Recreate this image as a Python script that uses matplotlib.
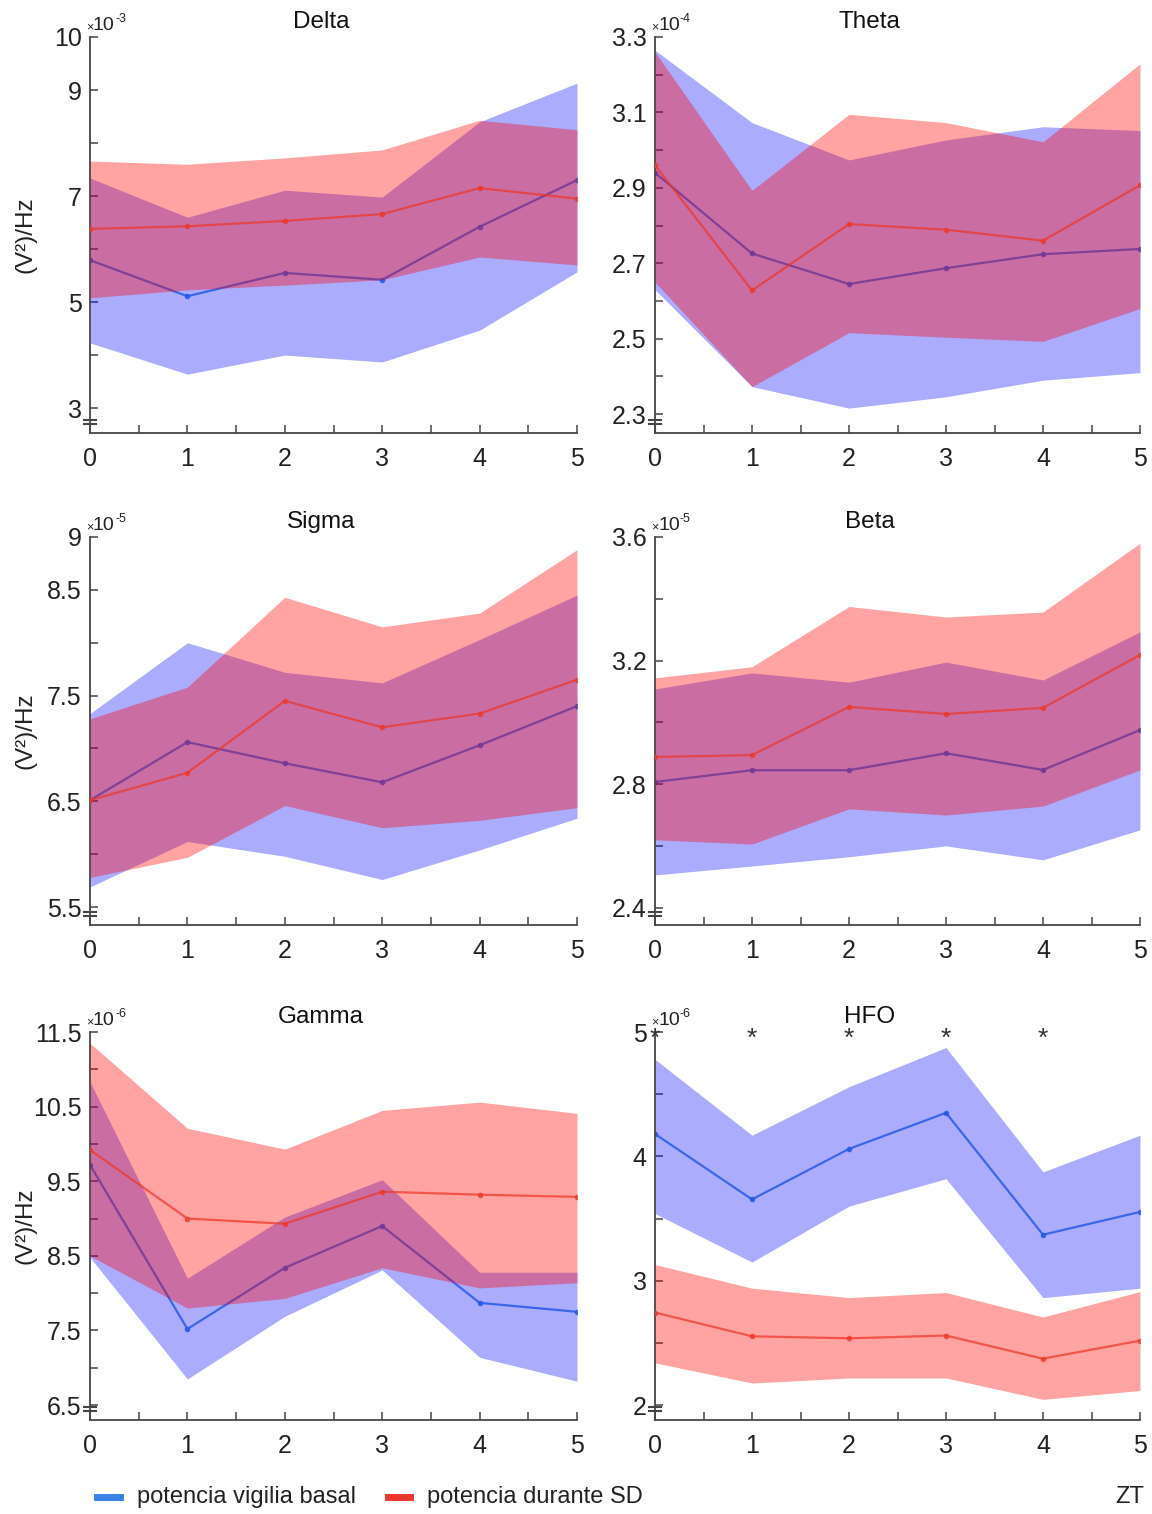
import numpy as np
import matplotlib as mpl
mpl.use('Agg')
import matplotlib.pyplot as plt
from matplotlib.lines import Line2D
from matplotlib.transforms import ScaledTranslation

plt.rcParams['font.family'] = ['Liberation Sans', 'DejaVu Sans']

zt = [0, 1, 2, 3, 4, 5]

# mean +/- band for baseline wake (blue) and during SD (red), in units of the panel exponent
delta_blue = [5.79, 5.11, 5.55, 5.42, 6.42, 7.30]
delta_blue_hi = [7.34, 6.60, 7.11, 6.98, 8.40, 9.13]
delta_blue_lo = [4.23, 3.64, 4.00, 3.87, 4.47, 5.57]
delta_red = [6.38, 6.43, 6.53, 6.66, 7.15, 6.95]
delta_red_hi = [7.66, 7.60, 7.72, 7.87, 8.43, 8.25]
delta_red_lo = [5.08, 5.23, 5.32, 5.42, 5.85, 5.70]

theta_blue = [2.94, 2.726, 2.645, 2.687, 2.724, 2.738]
theta_blue_hi = [3.265, 3.073, 2.974, 3.027, 3.062, 3.052]
theta_blue_lo = [2.63, 2.373, 2.316, 2.346, 2.39, 2.41]
theta_red = [2.96, 2.628, 2.804, 2.789, 2.76, 2.907]
theta_red_hi = [3.26, 2.893, 3.095, 3.073, 3.022, 3.229]
theta_red_lo = [2.65, 2.373, 2.516, 2.504, 2.493, 2.58]

sigma_blue = [6.51, 7.06, 6.86, 6.68, 7.03, 7.40]
sigma_blue_hi = [7.33, 8.00, 7.72, 7.62, 8.03, 8.45]
sigma_blue_lo = [5.69, 6.12, 5.98, 5.76, 6.04, 6.34]
sigma_red = [6.51, 6.77, 7.45, 7.20, 7.33, 7.65]
sigma_red_hi = [7.28, 7.58, 8.43, 8.15, 8.28, 8.88]
sigma_red_lo = [5.78, 5.97, 6.46, 6.25, 6.32, 6.44]

beta_blue = [2.807, 2.845, 2.845, 2.90, 2.846, 2.975]
beta_blue_hi = [3.108, 3.16, 3.13, 3.195, 3.137, 3.293]
beta_blue_lo = [2.506, 2.535, 2.565, 2.60, 2.555, 2.652]
beta_red = [2.888, 2.894, 3.05, 3.027, 3.047, 3.218]
beta_red_hi = [3.144, 3.18, 3.375, 3.341, 3.357, 3.58]
beta_red_lo = [2.62, 2.606, 2.72, 2.70, 2.729, 2.846]

gamma_blue = [9.72, 7.52, 8.34, 8.90, 7.87, 7.75]
gamma_blue_hi = [10.83, 8.20, 9.02, 9.52, 8.28, 8.28]
gamma_blue_lo = [8.48, 6.85, 7.69, 8.31, 7.14, 6.82]
gamma_red = [9.92, 9.00, 8.93, 9.36, 9.32, 9.29]
gamma_red_hi = [11.35, 10.21, 9.93, 10.45, 10.56, 10.41]
gamma_red_lo = [8.50, 7.80, 7.93, 8.34, 8.07, 8.14]

hfo_blue = [4.18, 3.654, 4.06, 4.35, 3.37, 3.553]
hfo_blue_hi = [4.78, 4.17, 4.56, 4.875, 3.875, 4.17]
hfo_blue_lo = [3.54, 3.15, 3.60, 3.82, 2.864, 2.94]
hfo_red = [2.744, 2.553, 2.537, 2.559, 2.373, 2.518]
hfo_red_hi = [3.13, 2.94, 2.864, 2.905, 2.708, 2.913]
hfo_red_lo = [2.34, 2.177, 2.218, 2.218, 2.046, 2.117]

hfo_signif = [0, 1, 2, 3, 4]

# name, exponent, y-range, tick step, data
panels = [
    ('Delta', -3, (2.53, 10.0), 1.0,
     (delta_blue, delta_blue_lo, delta_blue_hi, delta_red, delta_red_lo, delta_red_hi)),
    ('Theta', -4, (2.25, 3.3), 0.1,
     (theta_blue, theta_blue_lo, theta_blue_hi, theta_red, theta_red_lo, theta_red_hi)),
    ('Sigma', -5, (5.33, 9.0), 0.5,
     (sigma_blue, sigma_blue_lo, sigma_blue_hi, sigma_red, sigma_red_lo, sigma_red_hi)),
    ('Beta', -5, (2.344, 3.6), 0.2,
     (beta_blue, beta_blue_lo, beta_blue_hi, beta_red, beta_red_lo, beta_red_hi)),
    ('Gamma', -6, (6.30, 11.5), 0.5,
     (gamma_blue, gamma_blue_lo, gamma_blue_hi, gamma_red, gamma_red_lo, gamma_red_hi)),
    ('HFO', -6, (1.88, 5.0), 0.5,
     (hfo_blue, hfo_blue_lo, hfo_blue_hi, hfo_red, hfo_red_lo, hfo_red_hi)),
]

BLUE_LINE = '#3a86e0'
RED_LINE = '#e5553a'
AXCOL = '#454545'
TXT = '#222222'

W, H = 1152, 1514
fig = plt.figure(figsize=(W / 100, H / 100), dpi=100)

col_x = [(90, 577), (655, 1140)]
row_y = [(37, 433), (537, 925), (1032, 1420)]


def first_tick(lo, step):
    return np.ceil(lo / step - 1e-6) * step


def px(ax, dx, dy):
    # axes coords shifted by a few pixels
    return ax.transAxes + ScaledTranslation(dx / 100, dy / 100, fig.dpi_scale_trans)


for i, (name, expo, (ylo, yhi), step, d) in enumerate(panels):
    r, c = divmod(i, 2)
    x0, x1 = col_x[c]
    yt, yb = row_y[r]
    ax = fig.add_axes([x0 / W, 1 - yb / H, (x1 - x0) / W, (yb - yt) / H])
    bm, bl, bh, rm, rl, rh = d

    ax.plot(zt, bm, color=BLUE_LINE, lw=1.6, marker='o', ms=3, alpha=0.85, zorder=1)
    ax.fill_between(zt, bl, bh, color='blue', alpha=0.33, lw=0, zorder=2)
    ax.plot(zt, rm, color=RED_LINE, lw=1.6, marker='o', ms=3, alpha=0.7, zorder=3)
    ax.fill_between(zt, rl, rh, color='red', alpha=0.36, lw=0, zorder=4)

    ax.set_xlim(0, 5)
    ax.set_ylim(ylo, yhi)
    for s in ['top', 'right']:
        ax.spines[s].set_visible(False)
    for s in ['left', 'bottom']:
        ax.spines[s].set_color(AXCOL)
        ax.spines[s].set_linewidth(1.3)

    ax.set_xticks(zt)
    ax.set_xticks(np.arange(0.5, 5, 1.0), minor=True)
    ax.tick_params(axis='x', which='both', direction='in', length=6, width=1.1,
                   color=AXCOL, labelsize=18, pad=10, labelcolor=TXT)

    start = first_tick(ylo, step)
    yt_vals = np.arange(start, yhi + step / 2, step)
    labels = []
    for k, v in enumerate(yt_vals):
        if k % 2 == 0 or k == len(yt_vals) - 1:
            labels.append('%g' % round(v, 3))
        else:
            labels.append('')
    ax.set_yticks(yt_vals)
    ax.set_yticklabels(labels)
    ax.tick_params(axis='y', direction='in', length=6, width=1.1, color=AXCOL,
                   labelsize=18, pad=6, labelcolor=TXT)

    # exponent above the y axis: small x, "10", raised power
    ax.text(0.0, 1.0, '×', transform=px(ax, -4, 7), fontsize=9,
            color=TXT, ha='left', va='baseline')
    ax.text(0.0, 1.0, '10', transform=px(ax, 3, 7), fontsize=14,
            color=TXT, ha='left', va='baseline')
    ax.text(0.0, 1.0, '%d' % expo, transform=px(ax, 25, 15), fontsize=9,
            color=TXT, ha='left', va='baseline')

    tx = 0.474 if c == 0 else 0.443
    ax.text(tx, 1.0, name, transform=px(ax, 0, 15),
            fontsize=17.5, ha='center', va='center', color='#111111')

    # axis break marks near the bottom of the y axis
    for dy in (9, 13):
        ax.add_line(Line2D([-0.012, 0.012], [0, 0], transform=px(ax, 0, dy),
                           color=AXCOL, lw=1.5, clip_on=False))

    if c == 0:
        ax.set_ylabel('(V²)/Hz', fontsize=17.5, color=TXT)
        ax.yaxis.set_label_coords(-0.11, 0.5)

    if name == 'HFO':
        for xs in hfo_signif:
            ax.text(xs, yhi, '*', fontsize=19, ha='center', va='center',
                    color='#333333', clip_on=False,
                    transform=ax.transData + ScaledTranslation(0, -7 / 100, fig.dpi_scale_trans))

# legend along the bottom
ly = 1 - 1497 / H
fig.add_artist(Line2D([97 / W, 120 / W], [ly, ly], color='#3b82e6', lw=5))
fig.text(137 / W, ly, 'potencia vigilia basal', fontsize=17, va='center', color=TXT)
fig.add_artist(Line2D([388 / W, 410 / W], [ly, ly], color='#e8382e', lw=5))
fig.text(427 / W, ly, 'potencia durante SD', fontsize=17, va='center', color=TXT)
fig.text(1130 / W, ly, 'ZT', fontsize=17, ha='center', va='center', color=TXT)

fig.savefig('out.png', dpi=100)
